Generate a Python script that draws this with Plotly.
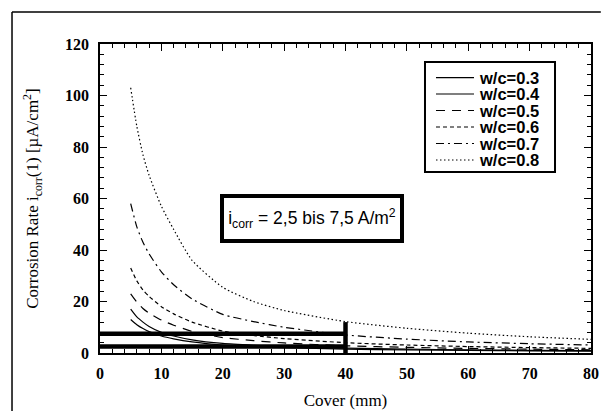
import plotly.graph_objects as go

# cover depth (mm) at which the corrosion rate was evaluated
cover = [5, 6, 7, 8, 10, 12, 15, 20, 25, 30, 40, 50, 60, 70, 80]

# corrosion rate i_corr(1) in uA/cm^2 for each water/cement ratio
rate_03 = [13.0, 11.0, 9.5, 8.3, 6.6, 5.5, 4.3, 3.1, 2.5, 2.1, 1.5, 1.2, 1.0, 0.85, 0.7]
rate_04 = [17.0, 14.0, 12.0, 10.3, 8.0, 6.6, 5.1, 3.7, 3.0, 2.5, 1.9, 1.5, 1.25, 1.05, 0.9]
rate_05 = [23.0, 19.8, 17.3, 15.5, 12.8, 10.8, 8.4, 6.0, 4.8, 3.9, 2.8, 2.2, 1.8, 1.5, 1.25]
rate_06 = [33.0, 28.0, 24.5, 22.0, 18.0, 15.2, 12.0, 8.5, 6.8, 5.6, 4.0, 3.1, 2.5, 2.1, 1.8]
rate_07 = [58.0, 49.0, 43.0, 38.5, 31.5, 26.5, 21.0, 15.0, 12.2, 10.0, 7.0, 5.4, 4.3, 3.6, 3.1]
rate_08 = [103.0, 88.0, 77.0, 69.0, 57.0, 48.0, 36.0, 25.5, 20.0, 16.5, 12.2, 9.6, 7.7, 6.3, 5.3]

series_names = ["w/c=0.3", "w/c=0.4", "w/c=0.5", "w/c=0.6", "w/c=0.7", "w/c=0.8"]
series_values = [rate_03, rate_04, rate_05, rate_06, rate_07, rate_08]
series_dash = ["solid", "solid", "9px,7px", "4px,3px", "8px,4px,2px,4px", "1.5px,2.5px"]

# design range of the corrosion rate, drawn as thick bars up to 40 mm cover
range_low = 2.5
range_high = 7.5
range_cover = [0, 40]
marker_cover = [40, 40]
marker_height = [0, 12]

fig = go.Figure()

for name, vals, dash in zip(series_names, series_values, series_dash):
    fig.add_trace(go.Scatter(
        x=cover, y=vals, name=name, mode="lines", showlegend=False,
        line=dict(color="black", width=1.2, dash=dash, shape="spline", smoothing=0.6),
    ))

for level in (range_high, range_low):
    fig.add_trace(go.Scatter(
        x=range_cover, y=[level, level], mode="lines", showlegend=False,
        line=dict(color="black", width=4.5), cliponaxis=False, hoverinfo="skip",
    ))
fig.add_trace(go.Scatter(
    x=marker_cover, y=marker_height, mode="lines", showlegend=False,
    line=dict(color="black", width=4.5), cliponaxis=False, hoverinfo="skip",
))

serif = "Liberation Serif, Times New Roman, serif"
sans = "Liberation Sans, Arial, sans-serif"

axis_common = dict(
    showline=True, linecolor="black", linewidth=1.5, mirror="allticks",
    ticks="inside", ticklen=7, tickwidth=1.2, tickcolor="black",
    showgrid=False, zeroline=False, automargin=False,
    tickfont=dict(family=serif, size=16, color="black", weight="bold"),
)

fig.update_xaxes(
    range=[0, 80], dtick=10, tick0=0,
    minor=dict(dtick=2, ticks="inside", ticklen=4, tickcolor="black", tickwidth=1),
    title=dict(text="Cover (mm)", font=dict(family=serif, size=17, color="black"), standoff=13),
    ticklabelstandoff=5,
    **axis_common,
)
fig.update_yaxes(
    range=[0, 120], dtick=20, tick0=0,
    minor=dict(dtick=4, ticks="inside", ticklen=4, tickcolor="black", tickwidth=1),
    title=dict(text="Corrosion Rate i<sub>corr</sub>(1) [\u00b5A/cm<sup>2</sup>]",
               font=dict(family=serif, size=17, color="black"), standoff=22),
    ticklabelstandoff=6,
    **axis_common,
)

fig.add_annotation(
    x=34.6, y=52.2, xref="x", yref="y", showarrow=False,
    text="i<sub>corr</sub> = 2,5 bis 7,5 A/m<sup>2</sup>",
    font=dict(family=sans, size=17.5, color="black"),
    bordercolor="black", borderwidth=4, borderpad=1, bgcolor="white",
    width=174, height=39,
)

# outer frame of the figure panel (top and left edges)
fig.add_shape(type="line", xref="paper", yref="paper",
              x0=-0.1792, x1=-0.1792, y0=1.1036, y1=-0.19,
              line=dict(color="black", width=1.5))
fig.add_shape(type="line", xref="paper", yref="paper",
              x0=-0.1792, x1=1.02, y0=1.1036, y1=1.1036,
              line=dict(color="black", width=1.5))

# legend box with one line sample and label per series
leg_x0, leg_x1 = 0.6619, 0.9267
leg_top, leg_bottom = 0.9417, 0.5858
row_y = [0.8909, 0.8382, 0.7848, 0.7314, 0.6780, 0.6246]
sample_x0, sample_x1 = 0.6843, 0.7617
label_x = 0.7679

fig.add_shape(type="rect", xref="paper", yref="paper",
              x0=leg_x0, x1=leg_x1, y0=leg_bottom, y1=leg_top,
              line=dict(color="black", width=2), fillcolor="white", layer="above")
for name, dash, ry in zip(series_names, series_dash, row_y):
    fig.add_shape(type="line", xref="paper", yref="paper",
                  x0=sample_x0, x1=sample_x1, y0=ry, y1=ry,
                  line=dict(color="black", width=1.2, dash=dash), layer="above")
    fig.add_annotation(
        x=label_x, y=ry, xref="paper", yref="paper", showarrow=False,
        xanchor="left", yanchor="middle", text=name, height=15,
        font=dict(family=sans, size=16.5, color="black", weight="bold"),
    )

fig.update_layout(
    width=601, height=411,
    margin=dict(l=100, r=10, t=44, b=58),
    paper_bgcolor="white", plot_bgcolor="white",
    showlegend=False,
)

# keep the page from showing a scrollbar next to the fixed-size figure
fig.write_html(
    "out.html",
    post_script="document.documentElement.style.overflow='hidden';"
                "document.body.style.overflow='hidden';",
)
